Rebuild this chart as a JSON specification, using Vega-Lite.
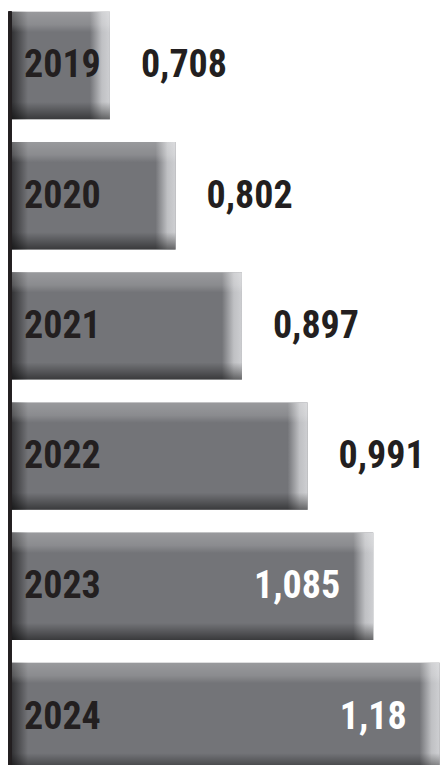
{
  "$schema": "https://vega.github.io/schema/vega-lite/v6.json",
  "width": 431,
  "height": 782,
  "autosize": {"type": "none"},
  "padding": {"left": 10, "top": 0, "right": 0, "bottom": 0},
  "background": "white",
  "config": {"view": {"stroke": null}},
  "data": {
    "values": [
      {"year": "2019", "value": 0.708, "label": "0,708"},
      {"year": "2020", "value": 0.802, "label": "0,802"},
      {"year": "2021", "value": 0.897, "label": "0,897"},
      {"year": "2022", "value": 0.991, "label": "0,991"},
      {"year": "2023", "value": 1.085, "label": "1,085"},
      {"year": "2024", "value": 1.18, "label": "1,18"}
    ]
  },
  "encoding": {
    "y": {"field": "year", "type": "nominal", "axis": null, "sort": null,
          "scale": {"paddingInner": 0.175, "paddingOuter": 0.09}}
  },
  "layer": [
    {
      "mark": {"type": "bar", "fill": "#737478"},
      "encoding": {
        "x": {"field": "value", "type": "quantitative", "axis": null,
              "scale": {"domain": [0.565, 1.182], "zero": false, "nice": false}},
        "x2": {"datum": 0.565}
      }
    },
    {
      "mark": {"type": "rect", "x2Offset": 18,
        "fill": {"gradient": "linear", "x1": 0, "y1": 0, "x2": 1, "y2": 0,
          "stops": [{"offset": 0, "color": "rgba(35,35,37,0.9)"}, {"offset": 1, "color": "rgba(35,35,37,0)"}]}},
      "encoding": {"x": {"datum": 0.565, "type": "quantitative"}, "x2": {"datum": 0.565}}
    },
    {
      "mark": {"type": "rect", "xOffset": -20,
        "fill": {"gradient": "linear", "x1": 0, "y1": 0, "x2": 1, "y2": 0,
          "stops": [{"offset": 0, "color": "rgba(200,201,204,0)"}, {"offset": 0.6, "color": "rgba(200,201,204,0.9)"}, {"offset": 1, "color": "rgb(206,207,210)"}]}},
      "encoding": {"x": {"field": "value", "type": "quantitative"}, "x2": {"field": "value"}}
    },
    {
      "mark": {"type": "bar",
        "fill": {"gradient": "linear", "x1": 0, "y1": 0, "x2": 0, "y2": 1,
          "stops": [
            {"offset": 0, "color": "rgba(255,255,255,0.27)"},
            {"offset": 0.12, "color": "rgba(255,255,255,0.17)"},
            {"offset": 0.19, "color": "rgba(255,255,255,0)"},
            {"offset": 0.84, "color": "rgba(0,0,0,0)"},
            {"offset": 0.93, "color": "rgba(0,0,0,0.28)"},
            {"offset": 1, "color": "rgba(0,0,0,0.5)"}
          ]}},
      "encoding": {"x": {"field": "value", "type": "quantitative"}, "x2": {"datum": 0.565}}
    },
    {
      "mark": {"type": "rule", "color": "#231f20", "strokeWidth": 3, "yOffset": -54, "y2Offset": 60},
      "encoding": {
        "x": {"datum": 0.565, "type": "quantitative"},
        "y": {"datum": "2019"},
        "y2": {"datum": "2024"}
      }
    },
    {
      "mark": {"type": "text", "align": "left", "baseline": "middle", "dx": 14, "dy": 1,
               "font": "Roboto Condensed, DejaVu Sans Condensed, sans-serif",
               "fontWeight": "bold", "fontSize": 38, "color": "#231f20"},
      "encoding": {"x": {"datum": 0.565, "type": "quantitative"}, "text": {"field": "year"}}
    },
    {
      "transform": [{"filter": "datum.value < 1"}],
      "mark": {"type": "text", "align": "left", "baseline": "middle", "dx": 31, "dy": 1,
               "font": "Roboto Condensed, DejaVu Sans Condensed, sans-serif",
               "fontWeight": "bold", "fontSize": 38, "color": "#231f20"},
      "encoding": {"x": {"field": "value", "type": "quantitative"}, "text": {"field": "label"}}
    },
    {
      "transform": [{"filter": "datum.value >= 1"}],
      "mark": {"type": "text", "align": "right", "baseline": "middle", "dx": -33, "dy": 1,
               "font": "Roboto Condensed, DejaVu Sans Condensed, sans-serif",
               "fontWeight": "bold", "fontSize": 38, "color": "white"},
      "encoding": {"x": {"field": "value", "type": "quantitative"}, "text": {"field": "label"}}
    }
  ]
}
